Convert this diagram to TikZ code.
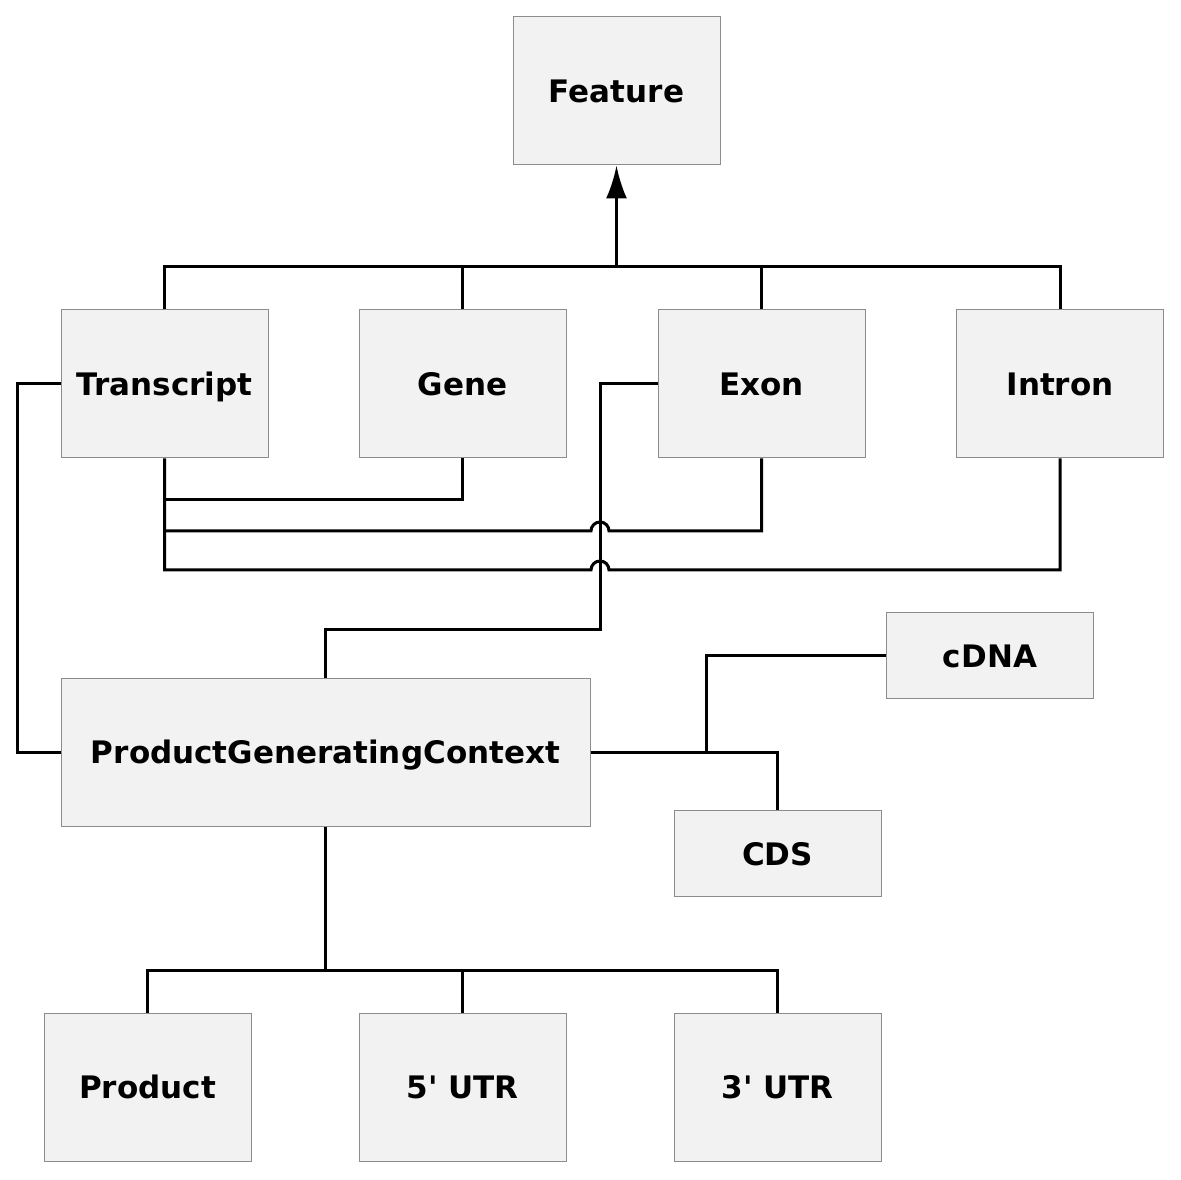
\documentclass[tikz,border=0pt]{standalone}
\usepackage{fontspec}
\setmainfont{DejaVu Sans}
\usetikzlibrary{arrows.meta}
\begin{document}
\begin{tikzpicture}[x=1pt,y=1pt,
  box/.style={draw=black!45, line width=1pt, fill=black!5, inner sep=0pt,
    minimum width=207pt, text height=23pt, text depth=0pt,
    font=\fontsize{31}{36}\selectfont\bfseries},
  tall/.style={box, minimum height=148pt},
  short/.style={box, minimum height=86pt},
  link/.style={line width=3pt, line join=miter},
  inherit/.style={link, -{Latex[length=33pt,width=21pt]}}]
\useasboundingbox[fill=white] (0,0) rectangle (1181,1179);
\node[tall] (Feature) at (616.5,1088) {Feature};
\node[tall] (Transcript) at (164.5,795) {Transcript};
\node[tall] (Gene) at (462.5,795) {Gene};
\node[tall] (Exon) at (761.5,795) {Exon};
\node[tall] (Intron) at (1060,795) {Intron};
\node[short] (cDNA) at (990,523) {cDNA};
\node[tall, minimum width=529pt] (PGC) at (325.5,426.5) {ProductGeneratingContext};
\node[short] (CDS) at (777.5,325) {CDS};
\node[tall] (Product) at (147.5,92) {Product};
\node[tall] (UTR5) at (462.5,92) {5\textquotesingle{} UTR};
\node[tall] (UTR3) at (777.5,92) {3\textquotesingle{} UTR};
% inheritance bus
\coordinate (bus) at (616.5,912);
\draw[inherit] (bus) -- (Feature.south);
\draw[link] (Transcript.north) |- (Intron.north |- bus) -- (Intron.north);
\draw[link] (Gene.north) -- (Gene.north |- bus);
\draw[link] (Exon.north) -- (Exon.north |- bus);
% Transcript to PGC
\draw[link] (Transcript.west) -- ++(-43,0) |- (PGC.west);
% Exon to PGC
\coordinate (ex1) at (600,795);
\coordinate (ex2) at (600,549);
\draw[link] (Exon.west) -- (ex1) -- (ex2) -| (PGC.north);
% Transcript to Gene, Exon, Intron
\coordinate (t1) at (164.5,679);
\coordinate (t2) at (164.5,648);
\coordinate (t3) at (164.5,609);
\draw[link] (Transcript.south) -- (t3) -- (591,609) arc (180:0:9) -| (Intron.south);
\draw[link] (t1) -| (Gene.south);
\draw[link] (t2) -- (591,648) arc (180:0:9) -| (Exon.south);
% PGC to cDNA and CDS
\coordinate (pj) at (706,426.5);
\draw[link] (PGC.east) -- (pj) |- (cDNA.west);
\draw[link] (pj) -| (CDS.north);
% PGC to bottom row
\coordinate (bb) at (325.5,209);
\draw[link] (PGC.south) -- (bb);
\draw[link] (Product.north) |- (UTR3.north |- bb) -- (UTR3.north);
\draw[link] (UTR5.north) -- (UTR5.north |- bb);
\end{tikzpicture}
\end{document}
